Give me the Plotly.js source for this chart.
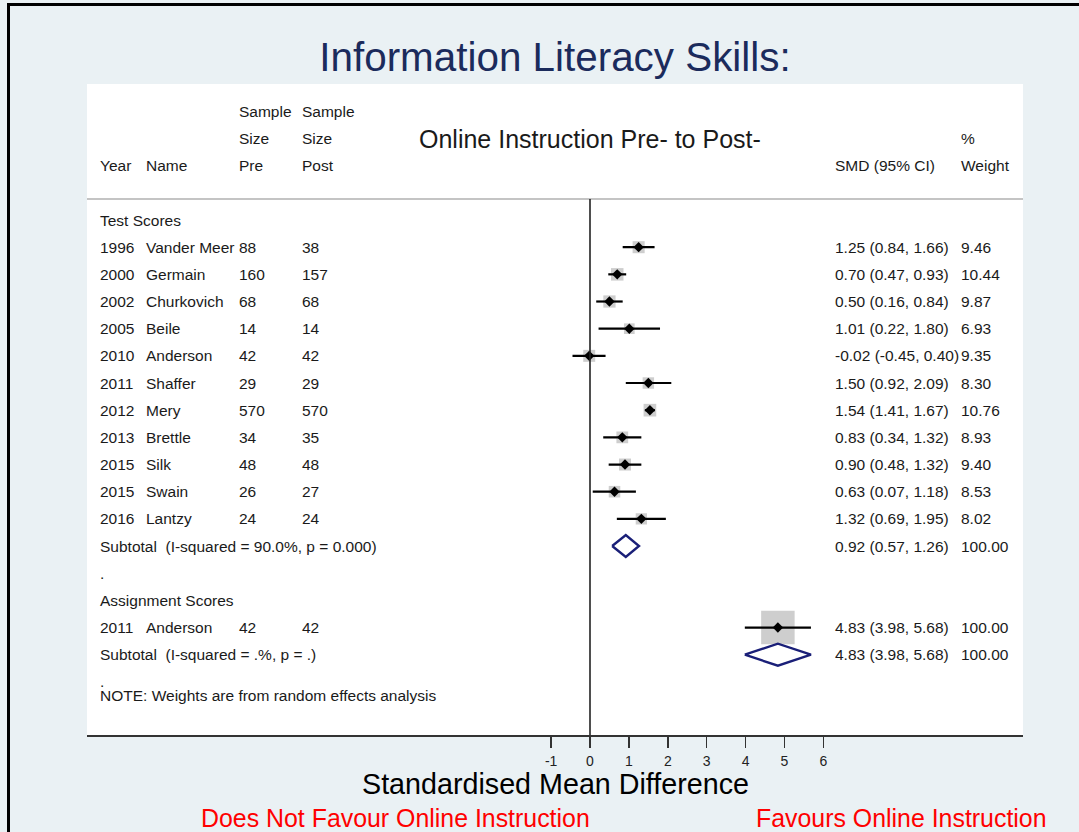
<!DOCTYPE html>
<html>
<head>
<meta charset="utf-8">
<script src="https://cdn.plot.ly/plotly-3.0.1.min.js"></script>
<style>
  html, body { margin: 0; padding: 0; background: #eaf1f4; }
  #wrap { position: relative; width: 1079px; height: 832px; overflow: hidden; }
  #chart { position: absolute; left: 0; top: 0; width: 1079px; height: 832px; }
  #frame { position: absolute; left: 7px; top: 3px; width: 1200px; height: 1000px;
           border-left: 3px solid #000; border-top: 3px solid #000; pointer-events: none; }
</style>
</head>
<body>
<div id="wrap"><div id="chart"></div><div id="frame"></div></div>
<script>
// ---------------- DATA ----------------
const groupNames = ["Test Scores", "Assignment Scores"];
const studyGroup = [0,0,0,0,0,0,0,0,0,0,0,1];
const studyYear  = ["1996","2000","2002","2005","2010","2011","2012","2013","2015","2015","2016","2011"];
const studyName  = ["Vander Meer","Germain","Churkovich","Beile","Anderson","Shaffer","Mery","Brettle","Silk","Swain","Lantzy","Anderson"];
const sizePre    = [88,160,68,14,42,29,570,34,48,26,24,42];
const sizePost   = [38,157,68,14,42,29,570,35,48,27,24,42];
const smd        = [1.25,0.70,0.50,1.01,-0.02,1.50,1.54,0.83,0.90,0.63,1.32,4.83];
const ciLow      = [0.84,0.47,0.16,0.22,-0.45,0.92,1.41,0.34,0.48,0.07,0.69,3.98];
const ciHigh     = [1.66,0.93,0.84,1.80,0.40,2.09,1.67,1.32,1.32,1.18,1.95,5.68];
const weight     = [9.46,10.44,9.87,6.93,9.35,8.30,10.76,8.93,9.40,8.53,8.02,100.00];

const subLabel   = ["Subtotal\u00a0 (I-squared = 90.0%, p = 0.000)", "Subtotal\u00a0 (I-squared = .%, p = .)"];
const subSmd     = [0.92, 4.83];
const subLow     = [0.57, 3.98];
const subHigh    = [1.26, 5.68];
const subWeight  = [100.00, 100.00];

const xTicks     = [-1,0,1,2,3,4,5,6];
const noteText   = "NOTE: Weights are from random effects analysis";

// ---------------- LAYOUT HELPERS ----------------
const W = 1079, H = 832;
const plotL = 87, plotR = 1023, plotT = 84, plotB = 735;
const px = p => (p - plotL) / (plotR - plotL);          // pixel x -> paper x
const py = p => (plotB - p) / (plotB - plotT);          // pixel y -> paper y
const FONT = "Liberation Sans, Arial, Helvetica, sans-serif";
const TXT = "#1a1a1a";
const colYear = px(100), colName = px(146), colPre = px(239), colPost = px(302),
      colCI = px(835), colW = px(961);

// assign rows
const studyRow = [], subRow = [], headRow = [], dotRows = [];
let r = 0;
groupNames.forEach((g, gi) => {
  headRow.push(r); r++;
  studyGroup.forEach((sg, i) => { if (sg === gi) { studyRow[i] = r; r++; } });
  subRow.push(r); r++;
  dotRows.push(r); r++;
});
const noteRow = dotRows[dotRows.length - 1] + 0.5;

const fmt = (e, l, h) => e.toFixed(2) + " (" + l.toFixed(2) + ", " + h.toFixed(2) + ")";

// ---------------- TRACES ----------------
const traces = [];
// weight boxes
traces.push({
  type: "scatter", mode: "markers", x: smd, y: studyRow, hoverinfo: "skip",
  marker: { symbol: "square", color: "#b9b9b9", size: weight.map(w => 3.1 * Math.sqrt(w) + 2.5), line: { width: 0 } },
  showlegend: false
});
// CI lines
const ciX = [], ciY = [];
smd.forEach((v, i) => { ciX.push(ciLow[i], ciHigh[i], null); ciY.push(studyRow[i], studyRow[i], null); });
traces.push({ type: "scatter", mode: "lines", x: ciX, y: ciY, hoverinfo: "skip",
  line: { color: "#000", width: 2.2 }, showlegend: false });
// point estimates
traces.push({ type: "scatter", mode: "markers", x: smd, y: studyRow, hoverinfo: "skip",
  marker: { symbol: "diamond", color: "#000", size: 8 }, showlegend: false });
// subtotal diamonds
const dh = 0.405;
const dX = [], dY = [];
subSmd.forEach((v, i) => {
  const y = subRow[i];
  dX.push(subLow[i], v, subHigh[i], v, subLow[i], null);
  dY.push(y, y - dh, y, y + dh, y, null);
});
traces.push({ type: "scatter", mode: "lines", x: dX, y: dY, hoverinfo: "skip",
  line: { color: "#1a1f78", width: 2.4 }, fill: "none", showlegend: false });

// ---------------- ANNOTATIONS ----------------
const ann = [];
const t = (x, y, text, opts = {}) => ann.push(Object.assign({
  xref: "paper", yref: "y", x: x, y: y, text: text, showarrow: false, borderpad: 0, borderwidth: 0,
  xanchor: "left", yanchor: "middle", font: { family: FONT, size: 15.5, color: TXT }
}, opts));

// header
const hr1 = -4, hr2 = -3, hr3 = -2;
t(colPre, hr1, "Sample"); t(colPost, hr1, "Sample");
t(colPre, hr2, "Size");   t(colPost, hr2, "Size");
t(colYear, hr3, "Year");  t(colName, hr3, "Name");
t(colPre, hr3, "Pre");    t(colPost, hr3, "Post");
t(colW, hr2, "%");        t(colW, hr3, "Weight");
t(colCI, hr3, "SMD (95% CI)");
ann.push({ xref: "x", yref: "y", x: 0, y: -2.97, text: "Online Instruction Pre- to Post-", showarrow: false,
  borderpad: 0, borderwidth: 0,
  xanchor: "center", yanchor: "middle", font: { family: FONT, size: 25, color: TXT } });

groupNames.forEach((g, gi) => t(colYear, headRow[gi], g));
studyYear.forEach((yv, i) => {
  const y = studyRow[i];
  t(colYear, y, yv);
  t(colName, y, studyName[i]);
  t(colPre, y, String(sizePre[i]));
  t(colPost, y, String(sizePost[i]));
  t(colCI, y, fmt(smd[i], ciLow[i], ciHigh[i]));
  t(colW, y, weight[i].toFixed(2));
});
subLabel.forEach((s, i) => {
  t(colYear, subRow[i], s);
  t(colCI, subRow[i], fmt(subSmd[i], subLow[i], subHigh[i]));
  t(colW, subRow[i], subWeight[i].toFixed(2));
});
dotRows.forEach(y => t(colYear, y, "."));
t(colYear, noteRow, noteText);

// below axis
ann.push({ xref: "paper", yref: "paper", x: px(555), y: py(784), text: "Standardised Mean Difference",
  showarrow: false, borderpad: 0, borderwidth: 0,
  xanchor: "center", yanchor: "middle", font: { family: FONT, size: 28.7, color: "#000" } });
ann.push({ xref: "paper", yref: "paper", x: px(395), y: py(818), text: "Does Not Favour Online Instruction",
  showarrow: false, borderpad: 0, borderwidth: 0,
  xanchor: "center", yanchor: "middle", font: { family: FONT, size: 24.9, color: "#ff0000" } });
ann.push({ xref: "paper", yref: "paper", x: px(901.5), y: py(818), text: "Favours Online Instruction",
  showarrow: false, borderpad: 0, borderwidth: 0,
  xanchor: "center", yanchor: "middle", font: { family: FONT, size: 24.9, color: "#ff0000" } });

// ---------------- AXES ----------------
const unit = 38.9;                 // pixels per SMD unit
const x0px = 590;                  // pixel of SMD = 0
const rowPx = 27.17, row0px = 220; // row spacing
const xRange = [(plotL - x0px) / unit, (plotR - x0px) / unit];
const yRange = [(plotB - row0px) / rowPx, (plotT - row0px) / rowPx];
const sepRow = (199 - row0px) / rowPx;

const layout = {
  width: W, height: H,
  margin: { l: plotL, r: W - plotR, t: plotT, b: H - plotB, pad: 0 },
  paper_bgcolor: "#eaf1f4", plot_bgcolor: "#ffffff",
  font: { family: FONT, color: TXT },
  title: { text: "Information Literacy Skills:", font: { family: FONT, size: 40.4, color: "#1b2b5c" },
    x: 0.5, xref: "paper", y: 1 - 57 / H, yref: "container", yanchor: "middle" },
  xaxis: { range: xRange, tickvals: xTicks, ticktext: xTicks.map(String), ticks: "outside", ticklen: 11,
    tickwidth: 1.5, tickcolor: "#333", showline: true, linecolor: "#333", linewidth: 2,
    showgrid: false, zeroline: false, tickfont: { family: FONT, size: 14, color: "#222" },
    ticklabelstandoff: 1, fixedrange: true },
  yaxis: { range: yRange, visible: false, showgrid: false, zeroline: false, fixedrange: true },
  shapes: [
    { type: "line", xref: "paper", yref: "y", x0: 0, x1: 1, y0: sepRow, y1: sepRow,
      line: { color: "#c4c4c4", width: 2 } },
    { type: "line", xref: "x", yref: "y", x0: 0, x1: 0, y0: sepRow, y1: yRange[0],
      line: { color: "#222", width: 1.6 } }
  ],
  annotations: ann,
  showlegend: false
};

Plotly.newPlot("chart", traces, layout, { displayModeBar: false, staticPlot: true });
</script>
</body>
</html>
